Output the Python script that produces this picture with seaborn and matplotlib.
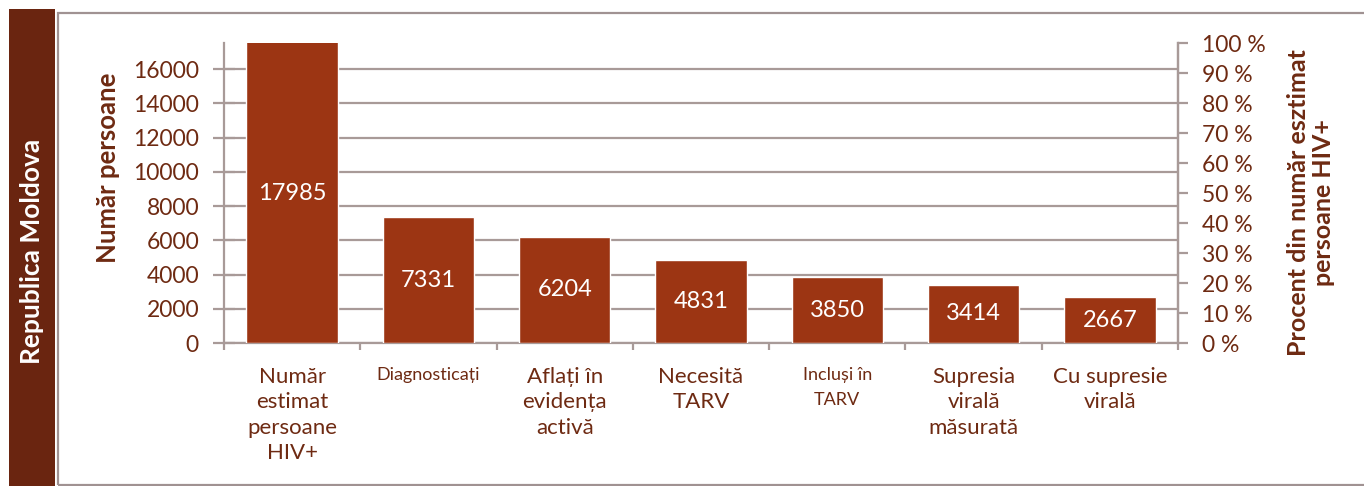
import matplotlib
matplotlib.use("Agg")
import matplotlib.pyplot as plt
import seaborn as sns
import pandas as pd
from matplotlib.patches import Rectangle
from matplotlib.ticker import FixedLocator

categories = ["Număr\nestimat\npersoane\nHIV+", "Diagnosticați", "Aflați în\nevidența\nactivă",
              "Necesită\nTARV", "Incluși în\nTARV", "Supresia\nvirală\nmăsurată", "Cu supresie\nvirală"]
values = [17985, 7331, 6204, 4831, 3850, 3414, 2667]
left_ticks = [0, 2000, 4000, 6000, 8000, 10000, 12000, 14000, 16000]
right_ticks = [0, 10, 20, 30, 40, 50, 60, 70, 80, 90, 100]

BAR = "#9C3513"
TXT = "#6E2A12"
GRID = "#A89A98"
PANEL = "#6A2510"

sns.set_theme(style="white")
plt.rcParams['font.family'] = ['Lato', 'DejaVu Sans']

W, H = 1364, 486
fig = plt.figure(figsize=(W / 100, H / 100), dpi=100)
fig.patch.set_facecolor("white")

# left brown panel and frame
fig.patches.append(Rectangle((9 / W, 0), 46 / W, 1 - 9 / H, transform=fig.transFigure,
                             facecolor=PANEL, edgecolor="none", zorder=0))
fig.patches.append(Rectangle((58.5 / W, 1 - 485 / H), 1.1, (485 - 13) / H, transform=fig.transFigure,
                             facecolor="none", edgecolor="#A09292", linewidth=1.6, zorder=0))
fig.text(32 / W, 1 - 251 / H, "Republica Moldova", rotation=90, color="white",
         fontsize=19, fontweight="bold", ha="center", va="center")

ax = fig.add_axes([224 / W, 1 - 343 / H, (1178 - 224) / W, 300 / H])
df = pd.DataFrame({"cat": categories, "val": values})
sns.barplot(data=df, x="cat", y="val", color=BAR, saturation=1, width=0.67, ax=ax, zorder=3)

ymax = 17520
ax.set_ylim(0, ymax)
ax.set_xlim(-0.5, len(categories) - 0.5)
ax.yaxis.set_major_locator(FixedLocator(left_ticks))
ax.set_yticklabels([str(t) for t in left_ticks])
ax.grid(axis="y", color=GRID, linewidth=1.6, zorder=0)
ax.set_axisbelow(True)

for c, v in zip(ax.containers[0], values):
    x = c.get_x() + c.get_width() / 2
    ax.text(x, min(v, ymax) / 2, str(v), color="white", fontsize=17,
            ha="center", va="center", zorder=5)

ax.spines["top"].set_visible(False)
for s in ["left", "right", "bottom"]:
    ax.spines[s].set_color(GRID)
    ax.spines[s].set_linewidth(1.6)

ax.tick_params(axis="y", which="major", direction="inout", length=16, width=1.6,
               color=GRID, labelsize=16.5, labelcolor=TXT, pad=10, left=True)
ax.tick_params(axis="x", which="major", length=0, pad=17, labelcolor=TXT)
ax.set_xticks(range(len(categories)))
ax.set_xticks([i - 0.5 for i in range(len(categories) + 1)], minor=True)
ax.tick_params(axis="x", which="minor", direction="out", length=5, width=1.6,
               color=GRID, bottom=True)
sizes = [16, 13, 16, 16, 13, 16, 16]
for lab, fs in zip(ax.get_xticklabels(), sizes):
    lab.set_fontsize(fs)
    lab.set_linespacing(1.35 if fs > 14 else 1.75)
    lab.set_va("top")
ax.set_xlabel("")
ax.set_ylabel("")

fig.text(108 / W, 1 - 168 / H, "Număr persoane", rotation=90, color=TXT,
         fontsize=18.5, fontweight="bold", ha="center", va="center")

ax2 = ax.twinx()
ax2.set_ylim(0, 100)
ax2.yaxis.set_major_locator(FixedLocator(right_ticks))
ax2.set_yticklabels([f"{t} %" for t in right_ticks])
ax2.tick_params(axis="y", direction="out", length=7, width=1.6, color=GRID,
                labelsize=16.5, labelcolor=TXT, pad=10, right=True)
for s in ["top", "left", "bottom"]:
    ax2.spines[s].set_visible(False)
ax2.spines["right"].set_color(GRID)
ax2.spines["right"].set_linewidth(1.6)
ax2.grid(False)

fig.text(1311 / W, 1 - 203 / H, "Procent din număr esztimat\npersoane HIV+", rotation=90,
         color=TXT, fontsize=18, fontweight="bold", ha="center", va="center",
         multialignment="center", linespacing=1.1)

fig.savefig("out.png", dpi=100)
